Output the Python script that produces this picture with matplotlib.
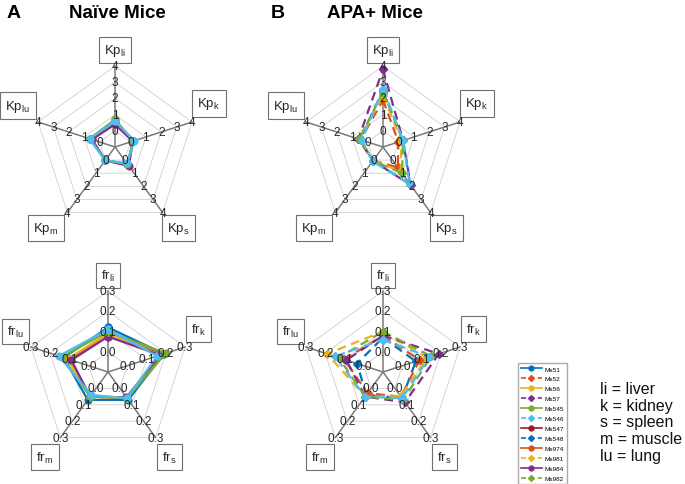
import numpy as np
import matplotlib.pyplot as plt
from matplotlib.lines import Line2D

plt.rcParams['font.family'] = ['Liberation Sans', 'DejaVu Sans']
plt.rcParams['mathtext.fontset'] = 'custom'
plt.rcParams['mathtext.rm'] = 'Liberation Sans'
plt.rcParams['mathtext.it'] = 'Liberation Sans'

# organ order around the web: liver, kidney, spleen, muscle, lung
organs = ['li', 'k', 's', 'm', 'lu']

# Kp values, naive mice (one list per animal)
naive_ids = ['Ms51', 'Ms56', 'Ms545', 'Ms546', 'Ms974', 'Ms984']
naive_kp = [
    [0.55, 0.20, 0.30, 0.02, 0.60],
    [0.50, 0.15, 0.35, 0.02, 0.50],
    [0.55, 0.20, 0.40, 0.03, 0.55],
    [0.40, 0.15, 0.45, 0.02, 0.50],
    [0.70, 0.20, 0.30, 0.02, 0.65],
    [0.60, 0.25, 0.25, 0.02, 0.65],
]
naive_fr = [
    [0.12, 0.19, 0.070, 0.07, 0.13],
    [0.09, 0.18, 0.060, 0.05, 0.10],
    [0.09, 0.17, 0.060, 0.05, 0.11],
    [0.075, 0.17, 0.055, 0.05, 0.09],
    [0.10, 0.20, 0.060, 0.05, 0.14],
    [0.11, 0.155, 0.060, 0.04, 0.155],
]

# APA+ mice
apa_ids = ['Ms52', 'Ms57', 'Ms547', 'Ms548', 'Ms981', 'Ms982']
apa_kp = [
    [2.50, 0.30, 1.85, 0.05, 0.50],
    [1.90, 0.00, 0.55, 0.05, 0.45],
    [2.20, 0.20, 0.85, 0.05, 0.50],
    [3.80, 0.30, 1.90, 0.05, 0.60],
    [2.40, 0.30, 1.00, 0.05, 0.55],
    [2.60, 0.30, 1.80, 0.10, 0.37],
]
apa_fr = [
    [0.07, 0.07, 0.060, 0.04, 0.035],
    [0.08, 0.09, 0.050, 0.03, 0.10],
    [0.10, 0.13, 0.048, 0.05, 0.19],
    [0.08, 0.19, 0.085, 0.05, 0.09],
    [0.10, 0.15, 0.070, 0.05, 0.13],
    [0.06, 0.14, 0.060, 0.05, 0.15],
]

kp_ticks = ['0', '1', '2', '3', '4']
fr_ticks = ['0.0', '0.1', '0.2', '0.3']

# matlab default colour order
mcol = ['#0072BD', '#D95319', '#EDB120', '#7E2F8E', '#77AC30', '#4DBEEE', '#A2142F']

legend_names = ['Ms51', 'Ms52', 'Ms56', 'Ms57', 'Ms545', 'Ms546',
                'Ms547', 'Ms548', 'Ms974', 'Ms981', 'Ms984', 'Ms982']
legend_cols = [mcol[0], mcol[1], mcol[2], mcol[3], mcol[4], mcol[5],
               mcol[6], mcol[0], mcol[1], mcol[2], mcol[3], mcol[4]]
legend_dashed = [False, True] * 6

W, H = 685, 485
fig = plt.figure(figsize=(W / 100, H / 100), dpi=100)

angles = np.pi / 2 - np.arange(5) * 2 * np.pi / 5
R = 81.0

# where the boxed organ labels sit (in units of the web radius)
kp_lab_pos = [(0.0, 1.2), (1.16, 0.54), (0.78, -1.0), (-0.85, -1.0), (-1.2, 0.51)]
fr_lab_pos = [(0.0, 1.19), (1.12, 0.53), (0.76, -1.05), (-0.78, -1.05), (-1.14, 0.5)]


def spider(cx, cy, data, lo, hi, ticks, prefix, dashed, lab_pos):
    ext = 1.5
    ax = fig.add_axes([(cx - ext * R) / W, (H - cy - ext * R) / H,
                       2 * ext * R / W, 2 * ext * R / H])
    ax.set_xlim(-ext, ext)
    ax.set_ylim(-ext, ext)
    ax.axis('off')
    nlev = len(ticks)  # rings: offset ring + intervals
    # grid rings
    for k in range(1, nlev + 1):
        r = k / nlev
        xs = np.append(r * np.cos(angles), r * np.cos(angles[0]))
        ys = np.append(r * np.sin(angles), r * np.sin(angles[0]))
        ax.plot(xs, ys, color='#cfcfcf', lw=0.6, zorder=1)
    # spokes
    for a in angles:
        ax.plot([0, np.cos(a)], [0, np.sin(a)], color='#7a7a7a', lw=1.1, zorder=2)
    # series
    for i, vals in enumerate(data):
        v = np.array(vals)
        r = ((v - lo) / (hi - lo) * (nlev - 1) + 1) / nlev
        xs = np.append(r * np.cos(angles), r[0] * np.cos(angles[0]))
        ys = np.append(r * np.sin(angles), r[0] * np.sin(angles[0]))
        if dashed:
            ax.plot(xs, ys, color=mcol[i], lw=1.6, ls=(0, (4, 2.5)),
                    marker='D', ms=4.2, zorder=3)
        else:
            ax.plot(xs, ys, color=mcol[i], lw=1.6, marker='o', ms=4.8, zorder=3)
    # tick labels along each spoke
    for a in angles:
        for k, t in enumerate(ticks):
            r = (k + 1) / nlev
            ax.text(r * np.cos(a), r * np.sin(a), t, ha='center', va='center',
                    fontsize=8.5, color='#262626', zorder=4)
    # axis labels in boxes
    for j in range(5):
        lx, ly = lab_pos[j]
        ax.text(lx, ly, prefix + r'$_{\mathrm{' + organs[j] + '}}$',
                ha='center', va='center', fontsize=9.5, color='#262626',
                bbox=dict(boxstyle='square,pad=0.4', fc='white', ec='#707070', lw=0.8))
    return ax


spider(115, 148, naive_kp, 0, 4, kp_ticks, 'Kp', False, kp_lab_pos)
spider(383, 148, apa_kp, 0, 4, kp_ticks, 'Kp', True, kp_lab_pos)
spider(108, 373, naive_fr, 0, 0.3, fr_ticks, 'fr', False, fr_lab_pos)
spider(383, 373, apa_fr, 0, 0.3, fr_ticks, 'fr', True, fr_lab_pos)

# panel titles
fig.text(7 / W, 1 - 14 / H, 'A', fontsize=14, fontweight='bold', va='center')
fig.text(117 / W, 1 - 14 / H, 'Naïve Mice', fontsize=13.5, fontweight='bold',
         ha='center', va='center')
fig.text(271 / W, 1 - 14 / H, 'B', fontsize=14, fontweight='bold', va='center')
fig.text(375 / W, 1 - 14 / H, 'APA+ Mice', fontsize=13.5, fontweight='bold',
         ha='center', va='center')

# legend
handles = []
for c, d in zip(legend_cols, legend_dashed):
    if d:
        handles.append(Line2D([], [], color=c, lw=1.2, ls=(0, (3, 2)), marker='D', ms=3))
    else:
        handles.append(Line2D([], [], color=c, lw=1.2, marker='o', ms=3.5))
fig.legend(handles, legend_names, loc='upper left', bbox_to_anchor=(515 / W, 1 - 361 / H),
           fontsize=4.6, handlelength=3.2, handletextpad=0.5, labelspacing=0.7,
           borderpad=0.45, fancybox=False, edgecolor='#aaaaaa', framealpha=1)

fig.text(600 / W, 1 - 423 / H, 'li = liver\nk = kidney\ns = spleen\nm = muscle\nlu = lung',
         fontsize=11.5, va='center', ha='left', linespacing=1.15, color='#111111')

fig.savefig('out.png', dpi=100)
